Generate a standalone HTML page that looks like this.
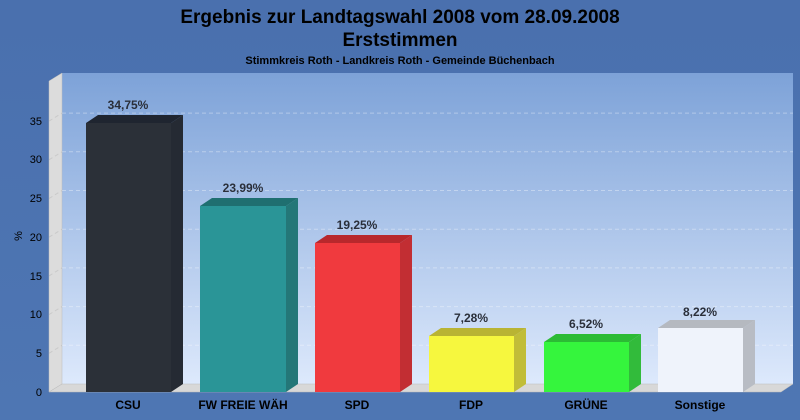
<!DOCTYPE html>
<html><head><meta charset="utf-8"><style>
html,body{margin:0;width:800px;height:420px;overflow:hidden;background:#4d74b1;font-family:"Liberation Sans",sans-serif}
svg{display:block}
</style></head><body>
<svg width="800" height="420" xmlns="http://www.w3.org/2000/svg" font-family="Liberation Sans, sans-serif">
<defs>
<linearGradient id="bg" x1="0" y1="0" x2="0" y2="1"><stop offset="0" stop-color="#7da2d8"/><stop offset="1" stop-color="#dde9fc"/></linearGradient>
<linearGradient id="page" x1="0" y1="0" x2="0" y2="1"><stop offset="0" stop-color="#4a70ae"/><stop offset="1" stop-color="#4e76b3"/></linearGradient>
</defs>
<rect width="800" height="420" fill="url(#page)"/>
<text x="400" y="23" font-size="19" font-weight="bold" text-anchor="middle" fill="#000">Ergebnis zur Landtagswahl 2008 vom 28.09.2008</text>
<text x="400" y="46" font-size="19" font-weight="bold" text-anchor="middle" fill="#000">Erststimmen</text>
<text x="400" y="64" font-size="11" font-weight="bold" text-anchor="middle" fill="#000">Stimmkreis Roth - Landkreis Roth - Gemeinde Büchenbach</text>
<rect x="62" y="73" width="731" height="311" fill="url(#bg)"/>
<polygon points="49,81 62,73 62,384 49,392" fill="#dcdcdc" stroke="#bbb" stroke-width="0.5"/>
<polygon points="49,392 62,384 793,384 781,392" fill="#d8d8d8" stroke="#bbb" stroke-width="0.5"/>
<g stroke="#ffffff" stroke-opacity="0.35" stroke-dasharray="4,3" stroke-width="1" fill="none">
<path d="M62 345.3H793M62 306.6H793M62 267.9H793M62 229.2H793M62 190.5H793M62 151.8H793M62 113.1H793"/>
<path d="M49 353.3L62 345.3M49 314.6L62 306.6M49 275.9L62 267.9M49 237.2L62 229.2M49 198.5L62 190.5M49 159.8L62 151.8M49 121.1L62 113.1" stroke="#aaa"/>
</g>
<g font-size="11" fill="#000" text-anchor="end">
<text x="42" y="396">0</text><text x="42" y="357">5</text><text x="42" y="318">10</text><text x="42" y="280">15</text><text x="42" y="241">20</text><text x="42" y="202">25</text><text x="42" y="163">30</text><text x="42" y="125">35</text>
</g>
<text transform="translate(22,236) rotate(-90)" font-size="11" text-anchor="middle">%</text>
<g>
<polygon points="86,123 98,115 183,115 171,123" fill="#1f2530"/><polygon points="171,123 183,115 183,384 171,392" fill="#252a33"/><rect x="86" y="123" width="85" height="269" fill="#2b3038"/>
<polygon points="200,206 212,198 298,198 286,206" fill="#1f6f70"/><polygon points="286,206 298,198 298,384 286,392" fill="#247778"/><rect x="200" y="206" width="86" height="186" fill="#2a9597"/>
<polygon points="315,243 327,235 412,235 400,243" fill="#b8282c"/><polygon points="400,243 412,235 412,384 400,392" fill="#c22e33"/><rect x="315" y="243" width="85" height="149" fill="#f03a3e"/>
<polygon points="429,336 441,328 526,328 514,336" fill="#b9b433"/><polygon points="514,336 526,328 526,384 514,392" fill="#c1bd38"/><rect x="429" y="336" width="85" height="56" fill="#f6f73e"/>
<polygon points="544,342 556,334 641,334 629,342" fill="#2cbb35"/><polygon points="629,342 641,334 641,384 629,392" fill="#32bb3b"/><rect x="544" y="342" width="85" height="50" fill="#35f53d"/>
<polygon points="658,328 670,320 755,320 743,328" fill="#b5b9c0"/><polygon points="743,328 755,320 755,384 743,392" fill="#b8bcc4"/><rect x="658" y="328" width="85" height="64" fill="#eff3fb"/>
</g>
<g font-size="12" font-weight="bold" fill="#2a2f3a" text-anchor="middle">
<text x="128" y="109">34,75%</text><text x="243" y="192">23,99%</text><text x="357" y="229">19,25%</text><text x="471" y="322">7,28%</text><text x="586" y="328">6,52%</text><text x="700" y="316">8,22%</text>
</g>
<g font-size="12" font-weight="bold" fill="#000" text-anchor="middle">
<text x="128" y="409">CSU</text><text x="243" y="409">FW FREIE WÄH</text><text x="357" y="409">SPD</text><text x="471" y="409">FDP</text><text x="586" y="409">GRÜNE</text><text x="700" y="409">Sonstige</text>
</g>
</svg>
</body></html>
